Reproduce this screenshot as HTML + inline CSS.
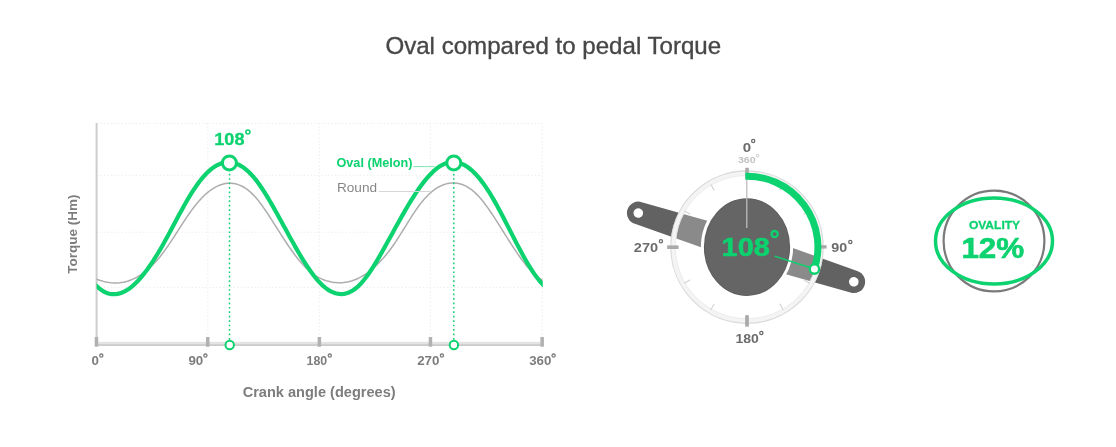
<!DOCTYPE html>
<html><head><meta charset="utf-8"><title>Oval compared to pedal Torque</title>
<style>
html,body{margin:0;padding:0;background:#fff;}
body{width:1116px;height:447px;overflow:hidden;font-family:"Liberation Sans",sans-serif;}
svg{display:block;will-change:transform;}
text{font-family:"Liberation Sans",sans-serif;}
.b{font-weight:bold;}
</style></head><body>
<svg width="1116" height="447" viewBox="0 0 1116 447">
<rect width="1116" height="447" fill="#fff"/>
<text x="553.3" y="54.3" font-size="24.1" fill="#474747" stroke="#474747" stroke-width="0.35" text-anchor="middle">Oval compared to pedal Torque</text>

<!-- grid -->
<g stroke="#ededed" stroke-width="1" stroke-dasharray="1.5,2" fill="none">
<path d="M97 123.4H542M97 175.3H542M97 232.2H542M97 287.4H542"/>
<path d="M207.8 123V342M319.3 123V342M430.3 123V342M542.2 123V342"/>
</g>
<!-- axes -->
<rect x="95.6" y="123" width="2" height="222" fill="#cdcdcd"/>
<rect x="95.6" y="341.8" width="448.2" height="3.2" fill="#e3e3e3"/>
<rect x="95.6" y="344.4" width="448.2" height="1.5" fill="#c6c6c6"/>
<g fill="#b1b1b1">
<rect x="94.7" y="337" width="3.5" height="9.7"/>
<rect x="206.0" y="337" width="3.5" height="9.7"/>
<rect x="317.6" y="337" width="3.5" height="9.7"/>
<rect x="428.7" y="337" width="3.5" height="9.7"/>
<rect x="540.4" y="337" width="3.5" height="9.7"/>
</g>
<!-- curves -->
<clipPath id="cc"><rect x="96.6" y="120" width="446.2" height="222"/></clipPath>
<g clip-path="url(#cc)">
<path d="M93.5,277.8 L95.5,278.7 L97.5,279.5 L99.5,280.2 L101.5,280.8 L103.5,281.4 L105.5,281.9 L107.5,282.3 L109.5,282.6 L111.5,282.8 L113.5,282.9 L115.5,283.0 L117.5,282.9 L119.5,282.8 L121.5,282.5 L123.5,282.2 L125.5,281.7 L127.5,281.2 L129.5,280.5 L131.5,279.8 L133.5,278.9 L135.5,278.0 L137.5,276.9 L139.5,275.7 L141.5,274.4 L143.5,273.0 L145.5,271.4 L147.5,269.8 L149.5,268.0 L151.5,266.1 L153.5,264.1 L155.5,262.0 L157.5,259.7 L159.5,257.4 L161.5,254.8 L163.5,252.2 L165.5,249.4 L167.5,246.6 L169.5,243.7 L171.5,240.6 L173.5,237.6 L175.5,234.5 L177.5,231.4 L179.5,228.3 L181.5,225.2 L183.5,222.1 L185.5,219.1 L187.5,216.1 L189.5,213.2 L191.5,210.4 L193.5,207.7 L195.5,205.1 L197.5,202.7 L199.5,200.4 L201.5,198.2 L203.5,196.2 L205.5,194.3 L207.5,192.6 L209.5,191.0 L211.5,189.6 L213.5,188.3 L215.5,187.1 L217.5,186.1 L219.5,185.3 L221.5,184.5 L223.5,184.0 L225.5,183.6 L227.5,183.3 L229.5,183.2 L231.5,183.3 L233.5,183.5 L235.5,183.8 L237.5,184.4 L239.5,185.1 L241.5,186.0 L243.5,187.0 L245.5,188.3 L247.5,189.7 L249.5,191.3 L251.5,193.1 L253.5,195.1 L255.5,197.2 L257.5,199.6 L259.5,202.1 L261.5,204.8 L263.5,207.6 L265.5,210.5 L267.5,213.4 L269.5,216.5 L271.5,219.6 L273.5,222.8 L275.5,225.9 L277.5,229.1 L279.5,232.2 L281.5,235.3 L283.5,238.4 L285.5,241.5 L287.5,244.5 L289.5,247.4 L291.5,250.2 L293.5,253.0 L295.5,255.7 L297.5,258.3 L299.5,260.7 L301.5,263.1 L303.5,265.3 L305.5,267.4 L307.5,269.3 L309.5,271.1 L311.5,272.7 L313.5,274.2 L315.5,275.6 L317.5,276.8 L319.5,277.9 L321.5,278.9 L323.5,279.7 L325.5,280.5 L327.5,281.1 L329.5,281.6 L331.5,282.1 L333.5,282.4 L335.5,282.6 L337.5,282.8 L339.5,282.8 L341.5,282.7 L343.5,282.6 L345.5,282.3 L347.5,282.0 L349.5,281.5 L351.5,281.0 L353.5,280.3 L355.5,279.5 L357.5,278.7 L359.5,277.7 L361.5,276.6 L363.5,275.5 L365.5,274.2 L367.5,272.8 L369.5,271.3 L371.5,269.7 L373.5,268.0 L375.5,266.2 L377.5,264.3 L379.5,262.3 L381.5,260.1 L383.5,257.9 L385.5,255.5 L387.5,253.1 L389.5,250.5 L391.5,247.8 L393.5,245.0 L395.5,242.1 L397.5,239.0 L399.5,235.9 L401.5,232.7 L403.5,229.5 L405.5,226.3 L407.5,223.1 L409.5,219.9 L411.5,216.7 L413.5,213.7 L415.5,210.7 L417.5,207.8 L419.5,205.0 L421.5,202.4 L423.5,200.0 L425.5,197.8 L427.5,195.7 L429.5,193.7 L431.5,192.0 L433.5,190.4 L435.5,188.9 L437.5,187.7 L439.5,186.5 L441.5,185.6 L443.5,184.7 L445.5,184.1 L447.5,183.6 L449.5,183.2 L451.5,183.0 L453.5,182.9 L455.5,183.0 L457.5,183.3 L459.5,183.7 L461.5,184.3 L463.5,185.0 L465.5,185.9 L467.5,187.0 L469.5,188.3 L471.5,189.7 L473.5,191.3 L475.5,193.1 L477.5,195.1 L479.5,197.2 L481.5,199.6 L483.5,202.0 L485.5,204.7 L487.5,207.4 L489.5,210.3 L491.5,213.2 L493.5,216.2 L495.5,219.3 L497.5,222.4 L499.5,225.6 L501.5,228.8 L503.5,232.0 L505.5,235.2 L507.5,238.3 L509.5,241.5 L511.5,244.6 L513.5,247.7 L515.5,250.7 L517.5,253.6 L519.5,256.5 L521.5,259.2 L523.5,261.9 L525.5,264.5 L527.5,266.9 L529.5,269.2 L531.5,271.4 L533.5,273.4 L535.5,275.2 L537.5,276.8 L539.5,278.3 L541.5,279.6 L543.5,280.6 L545.5,281.5" fill="none" stroke="#adadad" stroke-width="1.5"/>
<path d="M93.5,282.7 L95.5,284.9 L97.5,286.9 L99.5,288.6 L101.5,290.1 L103.5,291.4 L105.5,292.4 L107.5,293.2 L109.5,293.7 L111.5,294.1 L113.5,294.2 L115.5,294.2 L117.5,293.9 L119.5,293.4 L121.5,292.8 L123.5,292.0 L125.5,290.9 L127.5,289.7 L129.5,288.4 L131.5,286.8 L133.5,285.1 L135.5,283.3 L137.5,281.3 L139.5,279.1 L141.5,276.8 L143.5,274.4 L145.5,271.8 L147.5,269.2 L149.5,266.3 L151.5,263.4 L153.5,260.4 L155.5,257.2 L157.5,254.0 L159.5,250.7 L161.5,247.2 L163.5,243.7 L165.5,240.1 L167.5,236.4 L169.5,232.8 L171.5,229.0 L173.5,225.3 L175.5,221.5 L177.5,217.8 L179.5,214.1 L181.5,210.4 L183.5,206.8 L185.5,203.3 L187.5,199.8 L189.5,196.4 L191.5,193.2 L193.5,190.0 L195.5,187.1 L197.5,184.2 L199.5,181.5 L201.5,179.0 L203.5,176.7 L205.5,174.5 L207.5,172.4 L209.5,170.6 L211.5,168.9 L213.5,167.4 L215.5,166.1 L217.5,165.0 L219.5,164.1 L221.5,163.3 L223.5,162.8 L225.5,162.4 L227.5,162.2 L229.5,162.2 L231.5,162.5 L233.5,162.8 L235.5,163.4 L237.5,164.2 L239.5,165.2 L241.5,166.3 L243.5,167.6 L245.5,169.1 L247.5,170.8 L249.5,172.7 L251.5,174.8 L253.5,177.0 L255.5,179.4 L257.5,182.0 L259.5,184.8 L261.5,187.7 L263.5,190.7 L265.5,193.9 L267.5,197.1 L269.5,200.5 L271.5,203.9 L273.5,207.4 L275.5,211.0 L277.5,214.5 L279.5,218.2 L281.5,221.8 L283.5,225.5 L285.5,229.1 L287.5,232.8 L289.5,236.4 L291.5,240.0 L293.5,243.6 L295.5,247.1 L297.5,250.6 L299.5,254.0 L301.5,257.4 L303.5,260.6 L305.5,263.7 L307.5,266.8 L309.5,269.7 L311.5,272.5 L313.5,275.2 L315.5,277.7 L317.5,280.1 L319.5,282.3 L321.5,284.4 L323.5,286.2 L325.5,287.9 L327.5,289.4 L329.5,290.6 L331.5,291.7 L333.5,292.6 L335.5,293.3 L337.5,293.7 L339.5,294.0 L341.5,294.1 L343.5,293.9 L345.5,293.6 L347.5,293.0 L349.5,292.2 L351.5,291.2 L353.5,290.0 L355.5,288.5 L357.5,286.9 L359.5,285.0 L361.5,282.9 L363.5,280.5 L365.5,278.0 L367.5,275.4 L369.5,272.5 L371.5,269.5 L373.5,266.4 L375.5,263.1 L377.5,259.8 L379.5,256.4 L381.5,252.9 L383.5,249.3 L385.5,245.7 L387.5,242.1 L389.5,238.5 L391.5,234.9 L393.5,231.2 L395.5,227.6 L397.5,224.0 L399.5,220.4 L401.5,216.9 L403.5,213.4 L405.5,209.9 L407.5,206.5 L409.5,203.2 L411.5,199.9 L413.5,196.8 L415.5,193.7 L417.5,190.7 L419.5,187.8 L421.5,185.0 L423.5,182.4 L425.5,179.9 L427.5,177.5 L429.5,175.3 L431.5,173.2 L433.5,171.2 L435.5,169.5 L437.5,167.9 L439.5,166.5 L441.5,165.3 L443.5,164.3 L445.5,163.5 L447.5,162.9 L449.5,162.4 L451.5,162.2 L453.5,162.1 L455.5,162.2 L457.5,162.5 L459.5,163.1 L461.5,163.8 L463.5,164.6 L465.5,165.7 L467.5,167.0 L469.5,168.5 L471.5,170.1 L473.5,172.0 L475.5,174.0 L477.5,176.2 L479.5,178.5 L481.5,181.1 L483.5,183.8 L485.5,186.6 L487.5,189.6 L489.5,192.7 L491.5,196.0 L493.5,199.4 L495.5,202.9 L497.5,206.5 L499.5,210.2 L501.5,214.0 L503.5,217.8 L505.5,221.7 L507.5,225.6 L509.5,229.5 L511.5,233.4 L513.5,237.3 L515.5,241.2 L517.5,245.1 L519.5,248.8 L521.5,252.6 L523.5,256.2 L525.5,259.8 L527.5,263.2 L529.5,266.5 L531.5,269.7 L533.5,272.8 L535.5,275.6 L537.5,278.3 L539.5,280.8 L541.5,283.1 L543.5,285.2 L545.5,287.0" fill="none" stroke="#0cd26f" stroke-width="4.2" stroke-linejoin="round"/>
</g>
<!-- leader lines -->
<path d="M413.3 166.6H434.5" stroke="#7fe3b1" stroke-width="1"/>
<path d="M378.8 191.5H430.6" stroke="#d6d6d6" stroke-width="1"/>
<!-- dotted verticals -->
<g stroke="#0cd26f" stroke-width="1.5" stroke-dasharray="1.7,2.74" fill="none">
<path d="M229.5 173.7V340"/><path d="M453.8 173.7V340"/>
</g>
<!-- markers -->
<g fill="#fff" stroke="#0cd26f">
<circle cx="229.4" cy="162.9" r="7" stroke-width="3"/>
<circle cx="453.8" cy="162.9" r="7" stroke-width="3"/>
<circle cx="229.7" cy="345" r="4.2" stroke-width="2"/>
<circle cx="453.9" cy="345" r="4.2" stroke-width="2"/>
</g>
<!-- chart text -->
<text class="b" x="214.3" y="145" font-size="16.2" fill="#0cd26f" stroke="#0cd26f" stroke-width="0.3" stroke-linejoin="round" textLength="30.20" lengthAdjust="spacingAndGlyphs">108</text><circle cx="247.9" cy="132.0" r="2.0" fill="none" stroke="#0cd26f" stroke-width="1.6"/>
<text class="b" x="336.5" y="167.2" font-size="13" fill="#0cd26f" textLength="75.9" lengthAdjust="spacingAndGlyphs">Oval (Melon)</text>
<text x="336.9" y="192.1" font-size="12.8" fill="#878787" textLength="40.2" lengthAdjust="spacingAndGlyphs">Round</text>
<text class="b" x="91.6" y="365.1" font-size="13.5" fill="#7d7d7d" textLength="7.40" lengthAdjust="spacingAndGlyphs">0</text><circle cx="101.3" cy="355.6" r="1.6" fill="none" stroke="#7d7d7d" stroke-width="1.3"/><text class="b" x="188.4" y="365.1" font-size="13.5" fill="#7d7d7d" textLength="14.80" lengthAdjust="spacingAndGlyphs">90</text><circle cx="205.4" cy="355.6" r="1.6" fill="none" stroke="#7d7d7d" stroke-width="1.3"/><text class="b" x="306.6" y="365.1" font-size="13.5" fill="#7d7d7d" textLength="20.60" lengthAdjust="spacingAndGlyphs">180</text><circle cx="329.8" cy="355.6" r="1.6" fill="none" stroke="#7d7d7d" stroke-width="1.3"/><text class="b" x="417.2" y="365.1" font-size="13.5" fill="#7d7d7d" textLength="22.30" lengthAdjust="spacingAndGlyphs">270</text><circle cx="441.9" cy="355.6" r="1.6" fill="none" stroke="#7d7d7d" stroke-width="1.3"/><text class="b" x="529.2" y="365.1" font-size="13.5" fill="#7d7d7d" textLength="22.20" lengthAdjust="spacingAndGlyphs">360</text><circle cx="553.6" cy="355.6" r="1.6" fill="none" stroke="#7d7d7d" stroke-width="1.3"/>
<text class="b" x="319.15" y="396.5" font-size="14.5" fill="#7d7d7d" text-anchor="middle" textLength="153" lengthAdjust="spacingAndGlyphs">Crank angle (degrees)</text>
<text class="b" transform="translate(76.7,234.2) rotate(-90)" font-size="13.5" fill="#7d7d7d" text-anchor="middle">Torque (Hm)</text>

<!-- dial -->
<g transform="translate(746.05,247.35) rotate(17.68)">
  <path d="M-113.1,-11.35 L0,-15.0 L113.1,-11.35 A11.35,11.35 0 0 1 113.1,11.35 L0,15.0 L-113.1,11.35 A11.35,11.35 0 0 1 -113.1,-11.35Z" fill="#626262"/>
  <circle cx="-113.1" cy="0" r="4.8" fill="#fff"/>
  <circle cx="113.1" cy="0" r="4.8" fill="#fff"/>
</g>
<g transform="translate(747,247.1)">
  <!-- translucent disc lightens the arm -->
  <circle r="72" fill="#fff" fill-opacity="0.26"/>
  <!-- ring band -->
  <circle r="73.9" fill="none" stroke="#f4f4f4" stroke-width="4.8"/>
  <circle r="76.2" fill="none" stroke="#d8d8d8" stroke-width="1.1"/>
  <circle r="71.6" fill="none" stroke="#eaeaea" stroke-width="0.9"/>
  <g stroke="#d2d2d2" stroke-width="1.1"><path d="M0,-72.3V-65.5" transform="rotate(30)"/><path d="M0,-72.3V-65.5" transform="rotate(60)"/><path d="M0,-72.3V-65.5" transform="rotate(120)"/><path d="M0,-72.3V-65.5" transform="rotate(150)"/><path d="M0,-72.3V-65.5" transform="rotate(210)"/><path d="M0,-72.3V-65.5" transform="rotate(240)"/><path d="M0,-72.3V-65.5" transform="rotate(300)"/><path d="M0,-72.3V-65.5" transform="rotate(330)"/></g>
  <!-- ellipse -->
  <ellipse rx="44.6" ry="50.3" fill="#5c5c5c" stroke="#fff" stroke-width="3"/><ellipse rx="42.3" ry="48" fill="#656565"/>
  <!-- vertical line -->
  <path d="M-0.2,-70V-19" stroke="#bcbcbc" stroke-width="1.3"/>
  <!-- major ticks -->
  <g fill="#a9a9a9">
    <rect x="-1.75" y="-79.3" width="3.6" height="11.4"/>
    <rect x="-1.85" y="68.1" width="3.7" height="11.4"/>
    <rect x="-79.8" y="-1.7" width="11.4" height="3.6"/>
    <rect x="68.2" y="-1.9" width="11.4" height="3.4"/>
  </g>
  <!-- green arc 0..108 -->
  <path d="M-1.61,-70.88 A70.9,70.9 0 0 1 67.43,21.91" fill="none" stroke="#0cd26f" stroke-width="7"/>
  <path d="M27.58,8.96 L62.77,20.40" stroke="#0cd26f" stroke-width="1.4"/>
  <circle cx="67.43" cy="21.91" r="4.7" fill="#fff" stroke="#0cd26f" stroke-width="2.4"/>
  <text class="b" x="-25.4" y="8.5" font-size="26.5" fill="#0cd26f" stroke="#0cd26f" stroke-width="0.6" stroke-linejoin="round" textLength="48.20" lengthAdjust="spacingAndGlyphs">108</text><circle cx="27.6" cy="-13.0" r="3.1" fill="none" stroke="#0cd26f" stroke-width="2.3"/>
</g>
<text class="b" x="742.7" y="151.6" font-size="13" fill="#6c6c6c" textLength="8.40" lengthAdjust="spacingAndGlyphs">0</text><circle cx="753.2" cy="141.0" r="1.6" fill="none" stroke="#6c6c6c" stroke-width="1.3"/><text class="b" x="831.2" y="251.8" font-size="13" fill="#6c6c6c" textLength="15.90" lengthAdjust="spacingAndGlyphs">90</text><circle cx="850.3" cy="242.0" r="1.6" fill="none" stroke="#6c6c6c" stroke-width="1.3"/><text class="b" x="735.4" y="342.7" font-size="13" fill="#6c6c6c" textLength="23.40" lengthAdjust="spacingAndGlyphs">180</text><circle cx="761.3" cy="333.0" r="1.6" fill="none" stroke="#6c6c6c" stroke-width="1.3"/><text class="b" x="633.8" y="251.8" font-size="13" fill="#6c6c6c" textLength="24.30" lengthAdjust="spacingAndGlyphs">270</text><circle cx="660.9" cy="241.2" r="1.6" fill="none" stroke="#6c6c6c" stroke-width="1.3"/>
<text class="b" x="737.9" y="163.3" font-size="9.8" fill="#c2c2c2" textLength="17.70" lengthAdjust="spacingAndGlyphs">360</text><circle cx="757.6" cy="155.6" r="1.3" fill="none" stroke="#c2c2c2" stroke-width="0.9"/>

<!-- ovality -->
<circle cx="994" cy="241" r="50.4" fill="none" stroke="#7a7a7a" stroke-width="2.2"/>
<ellipse cx="994" cy="241" rx="58.5" ry="43" fill="none" stroke="#0cd26f" stroke-width="3.5"/>
<text class="b" x="968.9" y="229.1" font-size="11.6" fill="#0cd26f" stroke="#0cd26f" stroke-width="0.3" stroke-linejoin="round" textLength="51.20" lengthAdjust="spacingAndGlyphs">OVALITY</text>
<text class="b" x="961.4" y="258.4" font-size="28.8" fill="#0cd26f" stroke="#0cd26f" stroke-width="0.6" stroke-linejoin="round" textLength="62.80" lengthAdjust="spacingAndGlyphs">12%</text>
</svg>
</body></html>
